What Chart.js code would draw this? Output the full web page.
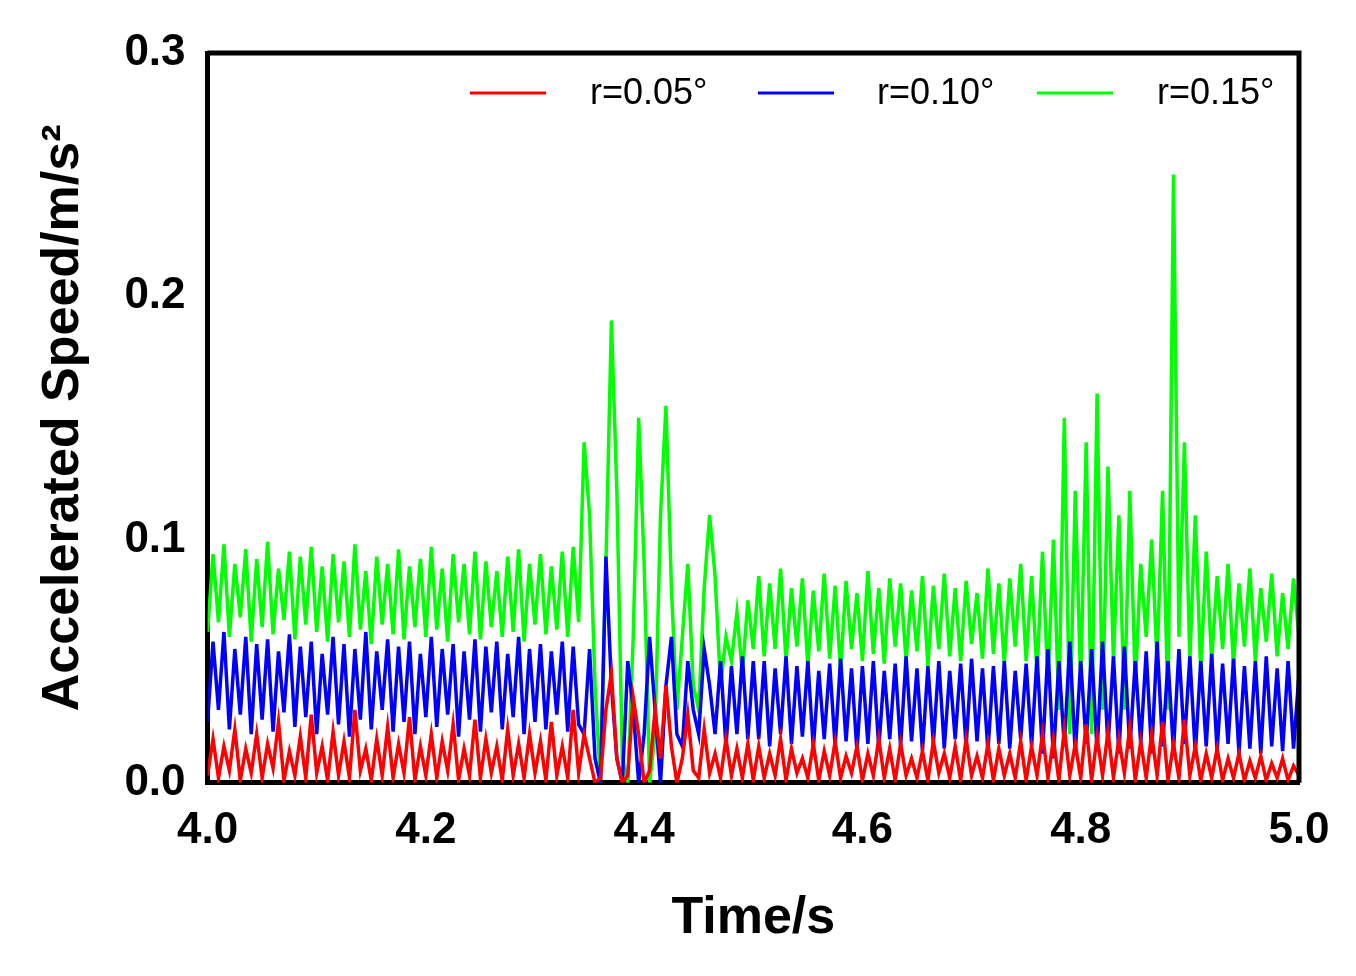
<!DOCTYPE html>
<html><head><meta charset="utf-8">
<script src="https://cdn.jsdelivr.net/npm/chart.js@4"></script>
<style>body{margin:0;background:#fff}#w{width:1356px;height:976px}</style>
</head><body><div id="w"><canvas id="c"></canvas></div>
<script>
const seriesLabels=["r=0.05°","r=0.10°","r=0.15°"];
const xTicks=[4.0,4.2,4.4,4.6,4.8,5.0];
const yTicks=[0.0,0.1,0.2,0.3];
const tStart=4.0, tStep=0.005;
const green=[0.062,0.094,0.066,0.098,0.060,0.090,0.068,0.096,0.058,0.092,
0.064,0.099,0.061,0.088,0.067,0.095,0.059,0.093,0.065,0.097,
0.062,0.089,0.058,0.094,0.066,0.091,0.060,0.098,0.063,0.087,
0.057,0.093,0.065,0.090,0.061,0.096,0.059,0.089,0.064,0.092,
0.060,0.097,0.063,0.088,0.058,0.094,0.066,0.090,0.061,0.095,
0.059,0.091,0.064,0.087,0.060,0.093,0.062,0.096,0.058,0.090,
0.065,0.094,0.061,0.089,0.063,0.095,0.060,0.097,0.066,
0.140,0.110,0.040,0.000,0.090,0.190,0.120,0.010,0.000,0.060,0.150,0.090,0.000,0.020,0.110,0.155,0.080,0.030,0.060,0.090,0.040,0.030,0.080,0.110,0.085,0.040,0.060,0.050,0.070,0.045,0.075,0.055,
0.085,0.052,0.082,0.055,0.088,0.050,0.080,0.056,0.084,0.048,
0.079,0.054,0.086,0.051,0.081,0.046,0.083,0.055,0.078,0.050,
0.087,0.053,0.080,0.049,0.084,0.056,0.082,0.050,0.079,0.054,
0.085,0.048,0.081,0.055,0.086,0.052,0.080,0.050,0.083,0.057,
0.078,0.051,0.088,0.053,0.082,0.049,0.084,0.056,0.090,0.050,
0.085,0.045,0.095,0.040,0.100,
0.030,0.150,0.020,0.120,0.040,0.140,0.020,0.160,0.030,0.130,0.050,0.110,0.030,0.120,0.040,0.090,0.060,0.100,0.050,0.120,0.030,0.250,0.060,0.140,0.050,
0.110,0.045,0.095,0.050,0.085,0.055,0.090,0.048,0.082,0.056,0.088,0.050,0.080,0.058,0.086,0.052,0.078,0.055,0.084,0.060];
const blue=[0.025,0.058,0.030,0.062,0.022,0.055,0.028,0.060,0.020,0.057,
0.026,0.059,0.021,0.054,0.029,0.061,0.023,0.056,0.027,0.058,
0.020,0.053,0.028,0.060,0.024,0.057,0.019,0.055,0.026,0.062,
0.022,0.054,0.030,0.059,0.021,0.056,0.025,0.058,0.020,0.053,
0.027,0.060,0.023,0.055,0.028,0.057,0.019,0.054,0.026,0.059,
0.021,0.056,0.029,0.058,0.022,0.053,0.027,0.060,0.020,0.055,
0.025,0.057,0.022,0.054,0.028,0.058,0.021,0.056,0.024,
0.020,0.055,0.010,0.000,0.093,0.040,0.010,0.000,0.050,0.030,0.000,0.020,0.060,0.030,0.000,0.040,0.060,0.020,0.015,0.050,0.030,0.020,0.055,0.040,0.020,0.050,0.015,0.048,0.020,0.052,0.018,0.050,
0.018,0.050,0.015,0.047,0.020,0.052,0.016,0.048,0.019,0.050,
0.014,0.046,0.018,0.049,0.015,0.051,0.017,0.047,0.013,0.048,
0.016,0.050,0.014,0.046,0.018,0.049,0.015,0.052,0.017,0.047,
0.013,0.048,0.016,0.050,0.014,0.046,0.018,0.049,0.015,0.051,
0.017,0.047,0.013,0.048,0.016,0.050,0.014,0.046,0.018,0.049,
0.015,0.052,0.012,0.055,0.010,0.050,0.015,0.058,0.012,0.050,
0.016,0.055,0.013,0.058,0.015,0.052,0.012,0.056,0.014,0.050,
0.016,0.054,0.012,0.058,0.015,0.050,0.013,0.055,0.016,0.052,
0.012,0.050,0.015,0.053,0.013,0.049,0.016,0.051,0.012,0.048,
0.014,0.050,0.012,0.052,0.015,0.047,0.013,0.050,0.014,0.045];
const red=[0.003,0.018,0.002,0.015,0.005,0.022,0.001,0.014,0.004,0.020,
0.002,0.016,0.006,0.025,0.001,0.013,0.003,0.019,0.002,0.028,
0.004,0.015,0.001,0.021,0.003,0.017,0.002,0.030,0.005,0.014,
0.001,0.018,0.003,0.023,0.002,0.016,0.004,0.027,0.001,0.015,
0.003,0.020,0.002,0.017,0.005,0.024,0.001,0.014,0.003,0.026,
0.002,0.018,0.004,0.015,0.001,0.022,0.003,0.016,0.002,0.020,
0.004,0.017,0.001,0.025,0.003,0.015,0.002,0.030,0.004,
0.020,0.010,0.000,0.002,0.030,0.045,0.010,0.000,0.003,0.035,0.020,0.000,0.005,0.030,0.010,0.040,0.015,0.000,0.010,0.028,0.005,0.002,0.022,0.004,0.012,0.002,0.018,0.003,0.014,0.002,0.016,0.001,
0.015,0.002,0.012,0.003,0.018,0.001,0.014,0.004,0.010,0.002,
0.016,0.001,0.013,0.003,0.017,0.002,0.011,0.004,0.015,0.001,
0.012,0.003,0.018,0.002,0.014,0.001,0.016,0.003,0.010,0.002,
0.013,0.001,0.017,0.004,0.012,0.002,0.015,0.001,0.018,0.003,
0.011,0.002,0.016,0.001,0.014,0.003,0.012,0.002,0.017,0.001,
0.015,0.003,0.020,0.002,0.018,0.001,0.022,0.003,0.016,0.002,
0.024,0.001,0.019,0.003,0.021,0.002,0.018,0.004,0.023,0.001,
0.017,0.002,0.020,0.003,0.025,0.001,0.016,0.002,0.026,0.003,
0.015,0.001,0.012,0.002,0.014,0.001,0.010,0.002,0.012,0.001,
0.009,0.002,0.011,0.001,0.008,0.002,0.010,0.001,0.007,0.003];
const colors=["#ff0000","#0000ff","#00ff00"];
const pts=a=>a.map((v,i)=>({x:tStart+i*tStep,y:v}));
const FONT='"Liberation Sans", Arial, sans-serif';
const legendPlugin={id:'lg',afterDraw(ch){const c=ch.ctx;c.save();
 const items=[[470,590],[758,877],[1037,1157]];
 c.font='36px '+FONT;c.textBaseline='middle';
 items.forEach((p,i)=>{c.strokeStyle=colors[i];c.lineWidth=3;c.beginPath();c.moveTo(p[0],93);c.lineTo(p[0]+76,93);c.stroke();
 c.fillStyle='#000';c.fillText(seriesLabels[i],p[1],94);});
 c.restore();}};
new Chart(document.getElementById('c'),{type:'line',
 data:{datasets:[
  {label:seriesLabels[0],data:pts(red),borderColor:colors[0],borderWidth:3.5,pointRadius:0,order:0},
  {label:seriesLabels[1],data:pts(blue),borderColor:colors[1],borderWidth:3.5,pointRadius:0,order:1},
  {label:seriesLabels[2],data:pts(green),borderColor:colors[2],borderWidth:3.5,pointRadius:0,order:2}]},
 options:{responsive:true,maintainAspectRatio:false,animation:false,
  layout:{padding:{top:53,right:57,left:28,bottom:22}},
  plugins:{legend:{display:false},tooltip:{enabled:false}},
  scales:{
   x:{type:'linear',min:4,max:5,afterBuildTicks:s=>{s.ticks=xTicks.map(v=>({value:v}))},
    grid:{display:false,drawTicks:true,tickLength:14,tickColor:'#000',tickWidth:5},border:{color:'#000',width:5},
    ticks:{color:'#000',font:{family:FONT,size:44,weight:'bold'},callback:v=>v.toFixed(1),padding:8,maxRotation:0},
    title:{display:true,text:'Time/s',color:'#000',font:{family:FONT,size:52,weight:'bold'},padding:{top:22}}},
   y:{min:0,max:0.3,afterBuildTicks:s=>{s.ticks=yTicks.map(v=>({value:v}))},
    grid:{display:false,drawTicks:true,tickLength:14,tickColor:'#000',tickWidth:5},border:{color:'#000',width:5},
    ticks:{color:'#000',font:{family:FONT,size:44,weight:'bold'},callback:v=>v.toFixed(1),padding:8},
    title:{display:true,text:'Accelerated Speed/m/s²',color:'#000',font:{family:FONT,size:52,weight:'bold'},padding:{bottom:22}}}
  }},
 plugins:[legendPlugin,{id:'frame',afterDraw(ch){const a=ch.chartArea,c=ch.ctx;c.save();c.strokeStyle='#000';c.lineWidth=5;
  c.beginPath();c.moveTo(a.left,a.top);c.lineTo(a.right,a.top);c.lineTo(a.right,a.bottom);c.stroke();c.restore();}}]
});
</script></body></html>
